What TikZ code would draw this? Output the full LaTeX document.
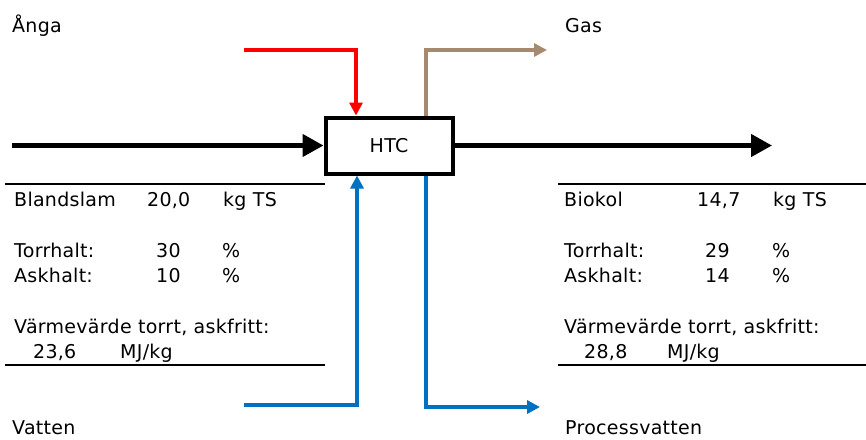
\documentclass[tikz,border=0pt]{standalone}
\usepackage{fontspec}
\setmainfont{DejaVu Sans}[LetterSpace=1.5]
\usetikzlibrary{arrows.meta,positioning}

\definecolor{steamred}{RGB}{255,0,0}
\definecolor{gasbrown}{RGB}{166,138,110}
\definecolor{waterblue}{RGB}{0,112,192}

\begin{document}
\begin{tikzpicture}[
      x=1pt, y=-1pt,
      every node/.style={inner sep=0pt, font=\fontsize{19}{23}\selectfont},
      txt/.style={anchor=base west},
      process/.style={
        draw,
        line width=4pt,
        minimum width=127pt,
        minimum height=56pt
      },
      mainflow/.style={line width=4.5pt, -{Triangle[length=21pt,width=22pt]}},
      sideflow/.style={line width=3.5pt, -{Triangle[length=13pt,width=13pt]}},
      rule/.style={line width=2.5pt}
    ]
      \path[use as bounding box] (0,0) rectangle (866,439);

      % Process box
      \node[process] (htc) at (389,145.5) {HTC};

      % Free ends
      \coordinate (feedin) at (12,145.5);
      \coordinate (charout) at (772,145.5);
      \coordinate (steamin) at (244,50);
      \coordinate (gasout) at (547,50);
      \coordinate (waterin) at (244,405);
      \coordinate (procout) at (540,407);

      % Streams
      \draw[mainflow] (feedin) -- (htc.west);
      \draw[mainflow] (htc.east) -- (charout);
      \draw[sideflow, steamred] (steamin) -| ([xshift=-33pt]htc.north);
      \draw[sideflow, gasbrown] ([xshift=37pt]htc.north) |- (gasout);
      \draw[sideflow, waterblue] (waterin) -| ([xshift=-32pt]htc.south);
      \draw[sideflow, waterblue] ([xshift=37pt]htc.south) |- (procout);

      % Stream names
      \node[txt] (steam) at (12,32) {Ånga};
      \node[txt] (gas) at (565,32) {Gas};
      \node[txt] (water) at (12,434) {Vatten};
      \node[txt] (proc) at (565,434) {Processvatten};

      % Feed table
      \draw[rule] (5,184) -- (325,184);
      \draw[rule] (5,365) -- (325,365);
      \node[txt] (feed) at (14,206) {Blandslam};
      \node[txt] (feedmass) at (147,206) {20,0};
      \node[txt] (feedunit) at (223,206) {kg TS};
      \node[txt] (feedts) at (14,257) {Torrhalt:};
      \node[txt] (feedtsval) at (156,257) {30};
      \node[txt] (feedtsunit) at (222,257) {\%};
      \node[txt] (feedash) at (14,282) {Askhalt:};
      \node[txt] (feedashval) at (156,282) {10};
      \node[txt] (feedashunit) at (222,282) {\%};
      \node[txt] (feedhv) at (14,333) {Värmevärde torrt, askfritt:};
      \node[txt] (feedhvval) at (33,358) {23,6};
      \node[txt] (feedhvunit) at (120,358) {MJ/kg};

      % Product table
      \draw[rule] (558,184) -- (866,184);
      \draw[rule] (558,365) -- (866,365);
      \node[txt] (char) at (564,206) {Biokol};
      \node[txt] (charmass) at (697,206) {14,7};
      \node[txt] (charunit) at (773,206) {kg TS};
      \node[txt] (charts) at (564,257) {Torrhalt:};
      \node[txt] (chartsval) at (705,257) {29};
      \node[txt] (chartsunit) at (772,257) {\%};
      \node[txt] (charash) at (564,282) {Askhalt:};
      \node[txt] (charashval) at (705,282) {14};
      \node[txt] (charashunit) at (772,282) {\%};
      \node[txt] (charhv) at (564,333) {Värmevärde torrt, askfritt:};
      \node[txt] (charhvval) at (584,358) {28,8};
      \node[txt] (charhvunit) at (667,358) {MJ/kg};
    \end{tikzpicture}
\end{document}
